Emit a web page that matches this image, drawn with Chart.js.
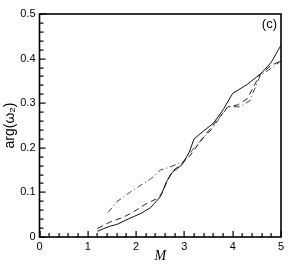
<!DOCTYPE html>
<html>
<head>
<meta charset="utf-8">
<script src="https://cdn.jsdelivr.net/npm/chart.js@4/dist/chart.umd.min.js"></script>
<style>
  html, body { margin: 0; padding: 0; background: #fff; }
  #wrap { width: 300px; height: 267px; }
</style>
</head>
<body>
<div id="wrap"><canvas id="argChart"></canvas></div>
<script>
"use strict";

// data: M on x, arg(omega_2) on y
var solidM   = [1.2, 1.45, 1.6, 1.85, 2.1, 2.3, 2.5, 2.63, 2.75, 2.95, 3.1, 3.2, 3.4, 3.6, 3.8, 4.0, 4.3, 4.6, 4.8, 5.0];
var solidArg = [0.013, 0.024, 0.028, 0.041, 0.053, 0.066, 0.09, 0.124, 0.145, 0.162, 0.19, 0.22, 0.238, 0.255, 0.285, 0.322, 0.342, 0.368, 0.392, 0.43];

var dashM   = [1.2, 1.45, 1.75, 2.0, 2.2, 2.45, 2.55, 2.65, 2.75, 2.95, 3.1, 3.3, 3.5, 3.7, 3.9, 4.1, 4.3, 4.57, 4.8, 5.0];
var dashArg = [0.019, 0.033, 0.045, 0.06, 0.074, 0.087, 0.1, 0.128, 0.147, 0.165, 0.18, 0.21, 0.238, 0.265, 0.292, 0.296, 0.31, 0.365, 0.385, 0.395];

var dotM   = [1.42, 1.6, 1.87, 2.15, 2.3, 2.5, 2.7, 2.98, 3.2, 3.55, 3.75, 3.9, 4.15, 4.35, 4.57, 4.85, 5.0];
var dotArg = [0.055, 0.079, 0.1, 0.12, 0.13, 0.15, 0.157, 0.169, 0.2, 0.24, 0.27, 0.292, 0.292, 0.305, 0.362, 0.382, 0.395];

var xTickLabels = ["0", "1", "2", "3", "4", "5"];
var yTickLabels = ["0", "0.1", "0.2", "0.3", "0.4", "0.5"];
var xTickValues = [0, 1, 2, 3, 4, 5];
var yTickValues = [0, 0.1, 0.2, 0.3, 0.4, 0.5];

function toPoints(xs, ys) {
    var pts = [];
    for (var i = 0; i < xs.length; i++) pts.push({x: xs[i], y: ys[i]});
    return pts;
}

// box round the plot + inward major/minor ticks, placed with the scales
var frameTicks = {
    id: "frameTicks",
    afterDraw: function(chart) {
        var ctx = chart.ctx, a = chart.chartArea;
        var xs = chart.scales.x, ys = chart.scales.y;
        ctx.save();
        ctx.setLineDash([]);
        ctx.fillStyle = "#000";
        var i, p, len;
        for (i = 0; i <= 25; i++) {
            p = Math.round(xs.getPixelForValue(i * 0.2));
            len = (i % 5 === 0) ? 6 : 4;
            ctx.fillRect(p - 0.5, a.bottom - len, 1.2, len);
        }
        for (i = 0; i <= 25; i++) {
            p = Math.round(ys.getPixelForValue(i * 0.02));
            len = (i % 5 === 0) ? 6 : 4;
            ctx.fillRect(a.left, p - 0.5, len, 1.2);
        }
        ctx.strokeStyle = "#000";
        ctx.lineWidth = 1.6;
        ctx.strokeRect(a.left, a.top, a.right - a.left, a.bottom - a.top);
        ctx.font = "13px 'Liberation Sans', Arial, sans-serif";
        ctx.textAlign = "right";
        ctx.textBaseline = "middle";
        ctx.fillText("(c)", a.right - 4, a.top + 10);
        ctx.restore();
    }
};

var ctx = document.getElementById("argChart").getContext("2d");
window.argChart = new Chart(ctx, {
    type: "line",
    data: {
        datasets: [{
            data: toPoints(solidM, solidArg),
            borderColor: "#111",
            borderWidth: 1,
            pointRadius: 0,
            tension: 0
        }, {
            data: toPoints(dashM, dashArg),
            borderColor: "#222",
            borderWidth: 1,
            borderDash: [6, 4],
            pointRadius: 0,
            tension: 0
        }, {
            data: toPoints(dotM, dotArg),
            borderColor: "#444",
            borderWidth: 1,
            borderDash: [6, 3, 1, 3],
            pointRadius: 0,
            tension: 0
        }]
    },
    options: {
        responsive: true,
        maintainAspectRatio: false,
        animation: false,
        layout: { padding: { top: 14, right: 19, left: 0, bottom: 0 } },
        plugins: { legend: { display: false }, tooltip: { enabled: false } },
        scales: {
            x: {
                type: "linear",
                min: 0, max: 5,
                afterFit: function(s) { s.height = 30; },
                afterBuildTicks: function(s) {
                    s.ticks = xTickValues.map(function(v) { return {value: v}; });
                },
                grid: { display: false, drawTicks: false },
                border: { display: false },
                ticks: {
                    color: "#000",
                    padding: 3,
                    maxRotation: 0,
                    font: { family: "'Liberation Sans', Arial, sans-serif", size: 11 },
                    callback: function(v) { return xTickLabels[xTickValues.indexOf(v)]; }
                },
                title: {
                    display: true,
                    text: "M",
                    color: "#000",
                    padding: { top: 0, bottom: 2 },
                    font: { family: "'Liberation Serif', 'Times New Roman', serif", size: 14, style: "italic" }
                }
            },
            y: {
                type: "linear",
                min: 0, max: 0.5,
                afterFit: function(s) { s.width = 39.5; },
                afterBuildTicks: function(s) {
                    s.ticks = yTickValues.map(function(v) { return {value: v}; });
                },
                grid: { display: false, drawTicks: false },
                border: { display: false },
                ticks: {
                    color: "#000",
                    padding: 4,
                    font: { family: "'Liberation Sans', Arial, sans-serif", size: 11 },
                    callback: function(v) { return yTickLabels[yTickValues.indexOf(v)]; }
                },
                title: {
                    display: true,
                    text: "arg(ω₂)",
                    color: "#000",
                    padding: { top: 2, bottom: 0 },
                    font: { family: "'Liberation Sans', Arial, sans-serif", size: 14 }
                }
            }
        }
    },
    plugins: [frameTicks]
});
</script>
</body>
</html>
